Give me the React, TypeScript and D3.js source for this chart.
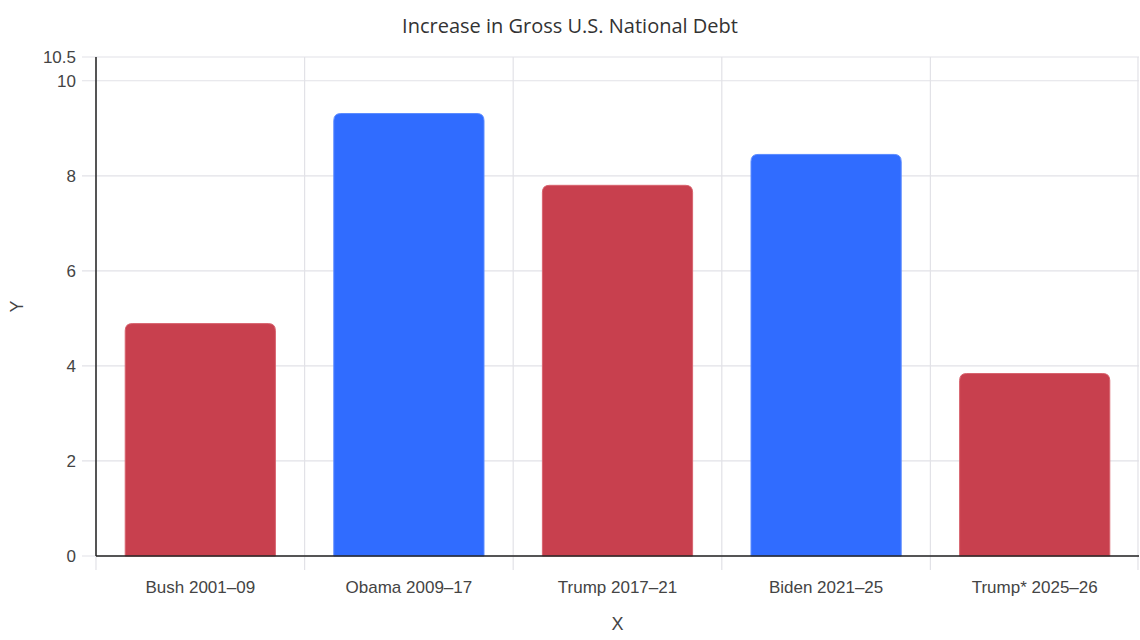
import { useEffect, useRef } from 'react';
import * as d3 from 'd3';

const categories = ['Bush 2001–09', 'Obama 2009–17', 'Trump 2017–21', 'Biden 2021–25', 'Trump* 2025–26'];
const values = [4.89, 9.31, 7.8, 8.45, 3.84];
const parties = ['R', 'D', 'R', 'D', 'R'];
const yTicks = [0, 2, 4, 6, 8, 10, 10.5];

const fills: Record<string, string> = { R: '#c8404e', D: '#306cff' };
const strokes: Record<string, string> = { R: '#d8646f', D: '#5a8aff' };

// rect with rounded top corners only
function topRounded(x: number, y: number, w: number, h: number, r: number) {
    const rr = Math.min(r, w / 2, h);
    return `M${x},${y + h}V${y + rr}Q${x},${y} ${x + rr},${y}H${x + w - rr}Q${x + w},${y} ${x + w},${y + rr}V${y + h}Z`;
}

export default function App() {
    const svgRef = useRef<SVGSVGElement>(null);

    useEffect(() => {
        document.body.style.margin = '0';
        if (!svgRef.current) return;

        const W = 1140, H = 640;
        const margin = { top: 57, right: 1, bottom: 84, left: 96 };
        const w = W - margin.left - margin.right;
        const h = H - margin.top - margin.bottom;

        const svg = d3.select(svgRef.current);
        svg.selectAll('*').remove();

        const g = svg.append('g').attr('transform', `translate(${margin.left},${margin.top})`);

        const x = d3.scaleBand().domain(categories).range([0, w]).paddingInner(0.28).paddingOuter(0.14);
        const y = d3.scaleLinear().domain([0, 10.5]).range([h, 0]);
        const grid = '#e2e2e7';

        // horizontal gridlines + left ticks
        for (const t of yTicks) {
            g.append('line')
                .attr('x1', -14).attr('x2', w)
                .attr('y1', y(t)).attr('y2', y(t))
                .attr('stroke', grid).attr('stroke-width', 1.2);
        }

        // vertical gridlines between bands + bottom ticks
        const step = x.step();
        for (let i = 0; i <= categories.length; i++) {
            const xx = Math.min(i * step, w - 1);
            g.append('line')
                .attr('x1', xx).attr('x2', xx)
                .attr('y1', 0).attr('y2', h + 14)
                .attr('stroke', grid).attr('stroke-width', 1.2);
        }

        // bars
        g.selectAll('.bar')
            .data(values)
            .join('path')
            .attr('class', 'bar')
            .attr('d', (d, i) => topRounded(x(categories[i])!, y(d), x.bandwidth(), h - y(d), 7))
            .attr('fill', (_, i) => fills[parties[i]])
            .attr('stroke', (_, i) => strokes[parties[i]])
            .attr('stroke-width', 1);

        // axes lines
        g.append('line').attr('x1', 0).attr('x2', 0).attr('y1', 0).attr('y2', h)
            .attr('stroke', '#222').attr('stroke-width', 1.5);
        g.append('line').attr('x1', 0).attr('x2', w).attr('y1', h).attr('y2', h)
            .attr('stroke', '#222').attr('stroke-width', 1.5);

        const font = 'Liberation Sans, Arial, sans-serif';

        // y tick labels
        g.selectAll('.ylbl')
            .data(yTicks)
            .join('text')
            .attr('class', 'ylbl')
            .attr('x', -20).attr('y', d => y(d) + 6)
            .attr('text-anchor', 'end').attr('font-size', 17).attr('font-family', font).attr('fill', '#444')
            .text(d => String(d));

        // x tick labels
        g.selectAll('.xlbl')
            .data(categories)
            .join('text')
            .attr('class', 'xlbl')
            .attr('x', d => x(d)! + x.bandwidth() / 2).attr('y', h + 37)
            .attr('text-anchor', 'middle').attr('font-size', 17).attr('font-family', font).attr('fill', '#444')
            .text(d => d);

        // axis titles
        g.append('text')
            .attr('x', w / 2).attr('y', h + 74)
            .attr('text-anchor', 'middle').attr('font-size', 18).attr('font-family', font).attr('fill', '#444')
            .text('X');
        svg.append('text')
            .attr('transform', `translate(23,${margin.top + h / 2}) rotate(-90)`)
            .attr('text-anchor', 'middle').attr('font-size', 18).attr('font-family', font).attr('fill', '#444')
            .text('Y');

        // title
        svg.append('text')
            .attr('x', W / 2).attr('y', 33)
            .attr('text-anchor', 'middle').attr('font-size', 20).attr('font-family', 'Open Sans, Noto Sans, sans-serif')
            .attr('fill', '#333')
            .text('Increase in Gross U.S. National Debt');
    }, []);

    return <svg ref={svgRef} width={1140} height={640} style={{ display: 'block' }} />;
}
